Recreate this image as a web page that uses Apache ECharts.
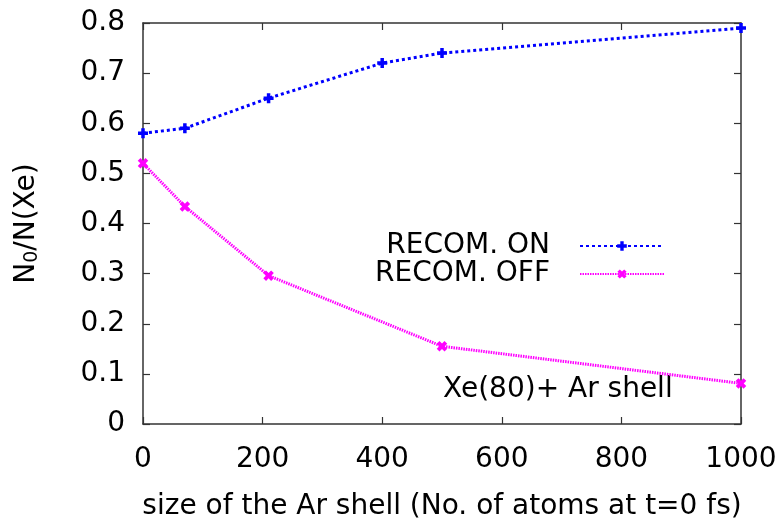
<!DOCTYPE html>
<html>
<head>
<meta charset="utf-8">
<script src="https://cdn.jsdelivr.net/npm/echarts@6/dist/echarts.min.js"></script>
<style>
  html, body { margin: 0; padding: 0; background: #fff; }
  #chart { width: 780px; height: 526px; }
</style>
</head>
<body>
<div id="chart"></div>
<script>
// Ar shell sizes (number of atoms at t = 0 fs)
const shellSizes = [0, 70, 210, 400, 500, 1000];
// N0/N(Xe) with recombination switched on / off
const recomOn  = [0.58, 0.59, 0.65, 0.72, 0.74, 0.79];
const recomOff = [0.52, 0.434, 0.296, null, 0.155, 0.081];
const seriesNames = ['RECOM. ON', 'RECOM. OFF'];
const annotation = 'Xe(80)+ Ar shell';

const FONT = '"DejaVu Sans", "Liberation Sans", Arial, sans-serif';
const FS = 28;
const AXIS_COLOR = '#333';

// filled "+" marker; rotated by 45 degrees it becomes the "x" marker
const plusPath = 'path://M2.6,0H5.4V2.6H8V5.4H5.4V8H2.6V5.4H0V2.6H2.6Z';

function pairs(xs, ys) {
  const out = [];
  xs.forEach((x, i) => { if (ys[i] !== null) out.push([x, ys[i]]); });
  return out;
}

const chart = echarts.init(document.getElementById('chart'), null, { renderer: 'canvas' });

const baseAxis = {
  axisLine: { show: true, onZero: false, lineStyle: { color: AXIS_COLOR, width: 1.5 } },
  axisTick: { show: true, inside: true, length: 7, lineStyle: { color: AXIS_COLOR, width: 1.2 } },
  splitLine: { show: false },
  axisLabel: { color: '#000', fontSize: FS, fontFamily: FONT },
  nameTextStyle: { color: '#000', fontSize: FS, fontFamily: FONT }
};

chart.setOption({
  animation: false,
  backgroundColor: '#fff',
  grid: { left: 143, right: 39, top: 23, bottom: 97, containLabel: false },
  xAxis: [
    Object.assign({}, baseAxis, {
      type: 'value', min: 0, max: 1000, interval: 200, position: 'bottom',
      name: 'size of the Ar shell (No. of atoms at t=0 fs)',
      nameLocation: 'middle', nameGap: 69,
      axisLabel: Object.assign({}, baseAxis.axisLabel, {
        margin: 22, formatter: v => String(v)
      })
    }),
    Object.assign({}, baseAxis, {
      type: 'value', min: 0, max: 1000, interval: 200, position: 'top',
      axisLabel: { show: false }
    })
  ],
  yAxis: [
    Object.assign({}, baseAxis, {
      type: 'value', min: 0, max: 0.8, interval: 0.1, position: 'left',
      name: '{n|N}{s|0}{n|/N(Xe)}',
      nameLocation: 'middle', nameGap: 101, nameRotate: 90,
      nameTextStyle: {
        color: '#000', fontFamily: FONT, fontSize: FS,
        rich: {
          n: { fontSize: FS, fontFamily: FONT, color: '#000' },
          s: { fontSize: 19, fontFamily: FONT, color: '#000', verticalAlign: 'bottom', padding: [12, 0, 0, 0] }
        }
      },
      axisLabel: Object.assign({}, baseAxis.axisLabel, { margin: 18 })
    }),
    Object.assign({}, baseAxis, {
      type: 'value', min: 0, max: 0.8, interval: 0.1, position: 'right',
      axisLabel: { show: false }
    })
  ],
  legend: {
    orient: 'vertical',
    align: 'right',
    right: 110, top: 227,
    itemWidth: 84, itemHeight: 12, itemGap: 0,
    textStyle: { color: '#000', fontSize: FS, fontFamily: FONT, padding: [0, 25, 0, 0] },
    data: seriesNames
  },
  graphic: [{
    type: 'text', left: 443, top: 376,
    style: { text: annotation, fill: '#000', fontSize: FS, fontFamily: FONT }
  }],
  series: [
    {
      name: seriesNames[0], type: 'line', xAxisIndex: 0, yAxisIndex: 0,
      data: pairs(shellSizes, recomOn),
      color: '#0000ff',
      lineStyle: { color: '#0000ff', width: 3, type: [3, 3] },
      symbol: plusPath, symbolSize: 10,
      itemStyle: { color: '#0000ff' }
    },
    {
      name: seriesNames[1], type: 'line', xAxisIndex: 0, yAxisIndex: 0,
      data: pairs(shellSizes, recomOff),
      color: '#ff00ff',
      lineStyle: { color: '#ff00ff', width: 3, type: [1.5, 1] },
      symbol: plusPath, symbolSize: 11, symbolRotate: 45,
      itemStyle: { color: '#ff00ff' }
    }
  ]
});
</script>
</body>
</html>
